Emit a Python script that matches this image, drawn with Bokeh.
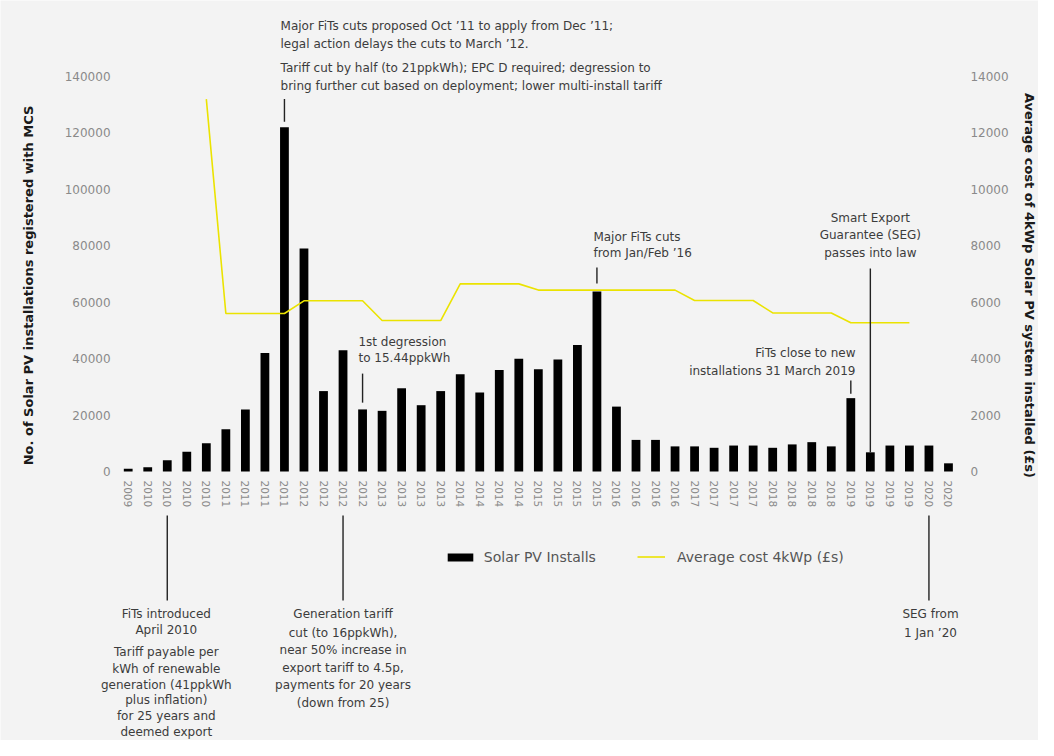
import math
from bokeh.plotting import figure
from bokeh.models import (ColumnDataSource, Range1d, LinearAxis, FixedTicker,
                          BasicTickFormatter, Legend, LegendItem)
from bokeh.core.properties import value
from bokeh.embed import file_html
from bokeh.resources import INLINE

# ---------------- data ----------------
quarter_years = ["2009", "2010", "2010", "2010", "2010",
                 "2011", "2011", "2011", "2011",
                 "2012", "2012", "2012", "2012",
                 "2013", "2013", "2013", "2013",
                 "2014", "2014", "2014", "2014",
                 "2015", "2015", "2015", "2015",
                 "2016", "2016", "2016", "2016",
                 "2017", "2017", "2017", "2017",
                 "2018", "2018", "2018", "2018",
                 "2019", "2019", "2019", "2019",
                 "2020", "2020"]

installs = [1000, 1500, 4000, 7000, 10000,
            15000, 22000, 42000, 122000,
            79000, 28500, 43000, 22000,
            21500, 29500, 23500, 28500,
            34500, 28000, 36000, 40000,
            36200, 39700, 44800, 63800,
            23000, 11200, 11200, 8900,
            8900, 8400, 9200, 9200,
            8400, 9600, 10400, 8900,
            26000, 6800, 9200, 9200,
            9200, 2900]

nan = float("nan")
avg_cost = [nan, nan, nan, nan, 13200,
            5600, 5600, 5600, 5600,
            6050, 6050, 6050, 6050,
            5350, 5350, 5350, 5350,
            6650, 6650, 6650, 6650,
            6430, 6430, 6430, 6430,
            6430, 6430, 6430, 6430,
            6060, 6060, 6060, 6060,
            5620, 5620, 5620, 5620,
            5270, 5270, 5270, 5270,
            nan, nan]

left_ticks = [0, 20000, 40000, 60000, 80000, 100000, 120000, 140000]
right_ticks = [0, 2000, 4000, 6000, 8000, 10000, 12000, 14000]

left_title = "No. of Solar PV installations registered with MCS"
right_title = "Average cost of 4kWp Solar PV system installed (£s)"
series_names = ["Solar PV Installs", "Average cost 4kWp (£s)"]

# annotation texts
note_top = ["Major FiTs cuts proposed Oct ’11 to apply from Dec ’11;",
            "legal action delays the cuts to March ’12.",
            "Tariff cut by half (to 21ppkWh); EPC D required; degression to",
            "bring further cut based on deployment; lower multi-install tariff"]
note_degression = ["1st degression", "to 15.44ppkWh"]
note_2016 = ["Major FiTs cuts", "from Jan/Feb ’16"]
note_seg_law = ["Smart Export", "Guarantee (SEG)", "passes into law"]
note_close = ["FiTs close to new", "installations 31 March 2019"]
note_fits = ["FiTs introduced", "April 2010", "Tariff payable per", "kWh of renewable",
             "generation (41ppkWh", "plus inflation)", "for 25 years and", "deemed export"]
note_gen = ["Generation tariff", "cut (to 16ppkWh),", "near 50% increase in",
            "export tariff to 4.5p,", "payments for 20 years", "(down from 25)"]
note_seg = ["SEG from", "1 Jan ’20"]

# ---------------- layout / style ----------------
BG = "#f3f3f3"
FONT = "DejaVu Sans"
TXT = "#3c3c3c"
YELLOW = "#ebe300"

x_idx = list(range(len(installs)))

p = figure(width=1038, height=740,
           x_range=Range1d(-6.539, 46.61), y_range=Range1d(-95342, 166937),
           output_backend="svg", toolbar_location=None,
           x_axis_location=None, y_axis_location=None,
           min_border_left=0, min_border_right=0, min_border_top=0, min_border_bottom=0,
           background_fill_color=BG, border_fill_color=BG, outline_line_color=None)
p.extra_y_ranges = {"cost": Range1d(-9534.2, 16693.7)}
p.grid.visible = False

src = ColumnDataSource(dict(x=x_idx, installs=installs, cost=avg_cost))

r_bar = p.vbar(x="x", top="installs", width=0.45, source=src,
               fill_color="#000000", line_color=None)
r_line = p.line(x="x", y="cost", source=src, y_range_name="cost",
                line_color=YELLOW, line_width=1.6)

def style_axis(ax, size="12px"):
    ax.axis_line_color = None
    ax.major_tick_line_color = None
    ax.minor_tick_line_color = None
    ax.major_tick_in = 0
    ax.major_tick_out = 0
    ax.minor_tick_in = 0
    ax.minor_tick_out = 0
    ax.major_label_text_font = FONT
    ax.major_label_text_font_size = size
    ax.major_label_text_color = "#8a8a8a"

left_axis = LinearAxis(fixed_location=-0.70, ticker=FixedTicker(ticks=left_ticks),
                       formatter=BasicTickFormatter(use_scientific=False),
                       major_label_standoff=4)
style_axis(left_axis)
p.add_layout(left_axis, "left")

right_axis = LinearAxis(y_range_name="cost", fixed_location=42.92,
                        ticker=FixedTicker(ticks=right_ticks),
                        formatter=BasicTickFormatter(use_scientific=False),
                        major_label_standoff=4)
style_axis(right_axis)
p.add_layout(right_axis, "right")

bottom_axis = LinearAxis(fixed_location=0, ticker=FixedTicker(ticks=x_idx),
                         major_label_overrides={i: s for i, s in enumerate(quarter_years)},
                         major_label_orientation="vertical", major_label_standoff=9)
style_axis(bottom_axis, "10.5px")
p.add_layout(bottom_axis, "below")

# axis titles
p.text(x=[-5.1], y=[65924], text=[left_title], angle=math.pi / 2,
       text_align="center", text_baseline="middle", text_font=value(FONT),
       text_font_style="bold", text_font_size="13px", text_color="#1a1a1a")
p.text(x=[46.15], y=[65924], text=[right_title], angle=-math.pi / 2,
       text_align="center", text_baseline="middle", text_font=value(FONT),
       text_font_style="bold", text_font_size="13px", text_color="#1a1a1a")

# annotation marker lines (x = bar index, y in installs units)
p.segment(x0=[8, 12, 24, 38, 37, 2, 11, 41],
          y0=[132000, 34700, 72300, 71950, 32250, -15600, -15600, -15600],
          x1=[8, 12, 24, 38, 37, 2, 11, 41],
          y1=[124000, 24400, 66600, installs[38], 27600, -45700, -45700, -45700],
          line_color="#222222", line_width=1.4)

def notes(xs, ys, lines, align):
    p.text(x=xs, y=ys, text=lines, text_align=align, text_baseline="middle",
           text_font=value(FONT), text_font_size="12px", text_color=TXT)

notes([7.8] * 4, [158076, 151696, 143190, 136810], note_top, "left")
notes([11.79] * 2, [46076, 40051], note_degression, "left")
notes([23.82] * 2, [83291, 77266], note_2016, "left")
notes([38.0] * 3, [90025, 84000, 77620], note_seg_law, "center")
notes([37.24] * 2, [42177, 35797], note_close, "right")
notes([1.95] * 8, [-50683, -56354, -64152, -69823, -75494, -81164, -86835, -92506],
      note_fits, "center")
notes([11.0] * 6, [-50683, -57170, -63443, -69575, -75848, -81980], note_gen, "center")
notes([41.08] * 2, [-50683, -57064], note_seg, "center")

# legends
common = dict(orientation="horizontal", padding=0, margin=0, spacing=0,
              background_fill_alpha=0, border_line_color=None,
              label_text_font=FONT, label_text_font_size="14px",
              label_text_color="#555555", label_height=10)
leg1 = Legend(items=[LegendItem(label=series_names[0], renderers=[r_bar])],
              location=(443.8, 175.5), glyph_width=32, glyph_height=10,
              label_standoff=8, **common)
leg2 = Legend(items=[LegendItem(label=series_names[1], renderers=[r_line])],
              location=(637, 175.5), glyph_width=28, glyph_height=15,
              label_standoff=12, **common)
p.add_layout(leg1)
p.add_layout(leg2)

open("out.html", "w").write(file_html(p, INLINE))
